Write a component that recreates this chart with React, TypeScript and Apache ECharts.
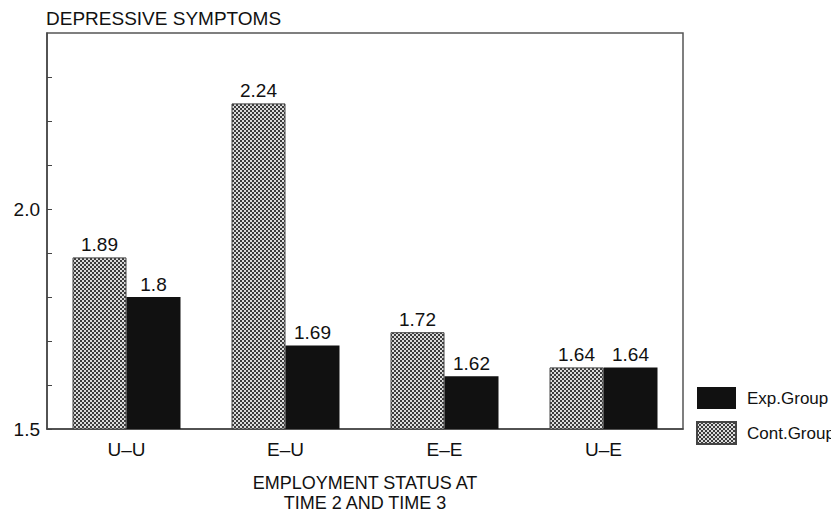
import React, { useEffect, useRef } from "react";
import * as echarts from "echarts";

const categories = ["U\u2013U", "E\u2013U", "E\u2013E", "U\u2013E"];
const contValues = [1.89, 2.24, 1.72, 1.64];
const expValues = [1.8, 1.69, 1.62, 1.64];
const yLabels = ["1.5", "2.0"];

const FONT = "Liberation Sans, Arial, Helvetica, sans-serif";

function makeChecker(): HTMLCanvasElement {
  const c = document.createElement("canvas");
  c.width = 4;
  c.height = 4;
  const ctx = c.getContext("2d")!;
  ctx.fillStyle = "#dcdcdc";
  ctx.fillRect(0, 0, 4, 4);
  ctx.fillStyle = "#3c3c3c";
  ctx.fillRect(0, 0, 2, 2);
  ctx.fillRect(2, 2, 2, 2);
  return c;
}

export default function App() {
  const ref = useRef<HTMLDivElement>(null);
  useEffect(() => {
    if (!ref.current) return;
    const chart = echarts.init(ref.current, null, { renderer: "svg" });
    const pattern: any = { image: makeChecker(), repeat: "repeat", imageWidth: 4, imageHeight: 4 };
    const labelStyle = {
      show: true,
      position: "top" as const,
      color: "#111",
      fontSize: 19,
      fontFamily: FONT,
      distance: 3,
    };
    chart.setOption({
      animation: false,
      backgroundColor: "#fff",
      textStyle: { fontFamily: FONT },
      title: {
        text: "DEPRESSIVE SYMPTOMS",
        left: 41,
        top: 4,
        textStyle: { fontSize: 19, fontWeight: "normal", color: "#111", fontFamily: FONT },
      },
      grid: {
        left: 47,
        right: 156,
        top: 33,
        bottom: 80,
        show: true,
        borderColor: "#555",
        borderWidth: 1.5,
        backgroundColor: "transparent",
      },
      legend: {
        orient: "vertical",
        left: 691,
        top: 382,
        itemWidth: 39,
        itemHeight: 22,
        itemGap: 12,
        icon: "rect",
        data: ["Exp.Group", "Cont.Group"],
        textStyle: { fontSize: 17, color: "#111", fontFamily: FONT, padding: [0, 0, 0, 6] },
      },
      xAxis: {
        type: "category",
        data: categories,
        axisTick: { show: false },
        axisLine: { show: true, lineStyle: { color: "#444", width: 1.5 } },
        axisLabel: { color: "#111", fontSize: 19, fontFamily: FONT, margin: 11 },
        name: "EMPLOYMENT STATUS AT\nTIME 2 AND TIME 3",
        nameLocation: "middle",
        nameGap: 44,
        nameTextStyle: { fontSize: 18, color: "#111", fontFamily: FONT, lineHeight: 20 },
      },
      yAxis: {
        type: "value",
        min: 1.5,
        max: 2.4,
        interval: 0.1,
        splitLine: { show: false },
        axisLine: { show: true, lineStyle: { color: "#444", width: 1.5 } },
        axisTick: { show: true, inside: true, length: 5, lineStyle: { color: "#444" } },
        axisLabel: {
          color: "#111",
          fontSize: 19,
          fontFamily: FONT,
          margin: 7,
          showMaxLabel: false,
          formatter: (v: number) => {
            for (const l of yLabels) if (Math.abs(v - parseFloat(l)) < 1e-6) return l;
            return "";
          },
        },
      },
      series: [
        {
          name: "Cont.Group",
          type: "bar",
          data: contValues,
          barWidth: 54,
          barGap: "0%",
          itemStyle: { color: pattern, borderColor: "#444", borderWidth: 1 },
          label: labelStyle,
        },
        {
          name: "Exp.Group",
          type: "bar",
          data: expValues,
          barWidth: 54,
          barGap: "0%",
          itemStyle: { color: "#111" },
          label: labelStyle,
        },
      ],
    });
    return () => chart.dispose();
  }, []);
  return <div ref={ref} style={{ width: 839, height: 518, margin: -8 }} />;
}
